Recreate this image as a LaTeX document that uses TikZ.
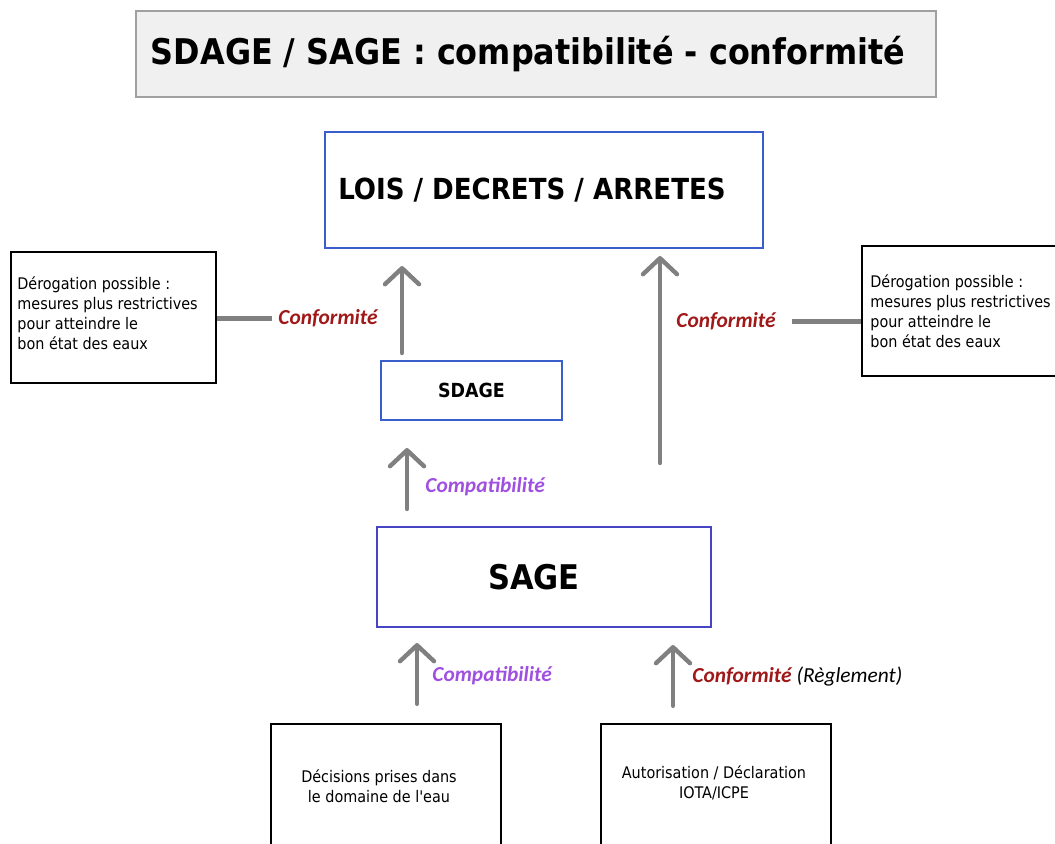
\documentclass[tikz,border=0pt]{standalone}
\usepackage{fontspec}
\newfontfamily\tahoma{DejaVu Sans Condensed}
\newfontfamily\calib{Carlito}
\usetikzlibrary{arrows.meta}
\definecolor{boxblue}{HTML}{3A5FCD}
\definecolor{sageblue}{HTML}{4646C4}
\definecolor{arrowgray}{HTML}{808080}
\definecolor{confred}{HTML}{A01818}
\definecolor{compviolet}{HTML}{A050E0}
\definecolor{titlefill}{HTML}{F0F0F0}
\definecolor{titledraw}{HTML}{A0A0A0}
\begin{document}
\begin{tikzpicture}[x=0.5pt, y=-0.5pt,
  bluebox/.style={draw=boxblue, line width=1pt, inner sep=0pt, font=\tahoma\bfseries},
  blackbox/.style={draw=black, line width=1.2pt, inner sep=0pt},
  boxtext/.style={font=\tahoma\fontsize{8}{10}\selectfont, inner sep=0pt},
  grayarrow/.style={draw=arrowgray, line width=2.2pt, line cap=round,
    -{Straight Barb[length=8pt, width=17pt, round]}},
  grayline/.style={draw=arrowgray, line width=2.5pt},
  conflabel/.style={font=\calib\bfseries\itshape\fontsize{10.7}{12}\selectfont, text=confred, inner sep=0pt},
  complabel/.style={font=\calib\bfseries\itshape\fontsize{10.7}{12}\selectfont, text=compviolet, inner sep=0pt}
]
\useasboundingbox (0,0) rectangle (1055,843);

%%%%% titre
\node[draw=titledraw, fill=titlefill, line width=1pt, minimum width=400pt, minimum height=43pt,
  inner sep=0pt, font=\tahoma\bfseries\fontsize{17.7}{20}\selectfont] (title) at (536,54)
  {\hspace*{-8pt}\raisebox{3pt}{SDAGE / SAGE : compatibilité - conformité}};

%%%%% boites bleues
\node[bluebox, minimum width=219pt, minimum height=58pt, font=\tahoma\bfseries\fontsize{14.5}{16}\selectfont]
  (lois) at (544,190) {\hspace*{-12pt}LOIS / DECRETS / ARRETES};
\node[bluebox, minimum width=90.5pt, minimum height=29.5pt, font=\tahoma\bfseries\fontsize{9.7}{10}\selectfont]
  (sdage) at (471.5,390.5) {SDAGE};
\node[bluebox, draw=sageblue, minimum width=167pt, minimum height=50pt, font=\tahoma\bfseries\fontsize{17}{20}\selectfont]
  (sage) at (544,577) {\hspace*{-10pt}SAGE};

%%%%% derogations
\node[blackbox, minimum width=102.5pt, minimum height=65.5pt] (derogL) at (113.5,317.5) {};
\node[boxtext, anchor=west, align=left] (derogLtxt) at (17,313)
  {Dérogation possible :\\mesures plus restrictives\\pour atteindre le\\bon état des eaux};
\node[blackbox, minimum width=103pt, minimum height=65pt] (derogR) at (965,311) {};
\node[boxtext, anchor=west, align=left] (derogRtxt) at (870,311)
  {Dérogation possible :\\mesures plus restrictives\\pour atteindre le\\bon état des eaux};

%%%%% boites du bas
\node[blackbox, minimum width=115pt, minimum height=68pt] (decis) at (386,792) {};
\node[boxtext, align=center] (decistxt) at (379,786) {Décisions prises dans\\le domaine de l'eau};
\node[blackbox, minimum width=115pt, minimum height=68pt] (autor) at (716,792) {};
\node[boxtext, align=center] (autortxt) at (714,783) {Autorisation / Déclaration\\IOTA/ICPE};

%%%%% etiquettes
\node[conflabel, anchor=west] (confL) at (278,318) {Conformité};
\node[conflabel, anchor=west] (confR) at (676,321) {Conformité};
\node[complabel, anchor=west] (compA) at (425,487) {Compatibilité};
\node[complabel, anchor=west] (compB) at (432,676) {Compatibilité};
\node[conflabel, anchor=west] (confB) at (692,676) {Conformité \textcolor{black}{\mdseries(Règlement)}};

%%%%% fleches
\draw[grayarrow, shorten <=3.5pt, shorten >=8.5pt] (sdage.north -| 402,0) -- (lois.south -| 402,0);
\draw[grayarrow, shorten <=31.5pt, shorten >=3.5pt] (sage.north -| 660,0) -- (lois.south -| 660,0);
\draw[grayarrow, shorten <=8.5pt, shorten >=13.5pt] (sage.north -| 407,0) -- (sdage.south -| 407,0);
\draw[grayarrow, shorten <=9.5pt, shorten >=7.5pt] (decis.north -| 417,0) -- (sage.south -| 417,0);
\draw[grayarrow, shorten <=8.5pt, shorten >=8.5pt] (autor.north -| 673,0) -- (sage.south -| 673,0);

\draw[grayline, shorten >=3pt] (derogL.east |- confL) -- (confL.west);
\draw[grayline, shorten <=8pt] (confR.east) -- (derogR.west |- confR);

\end{tikzpicture}
\end{document}
